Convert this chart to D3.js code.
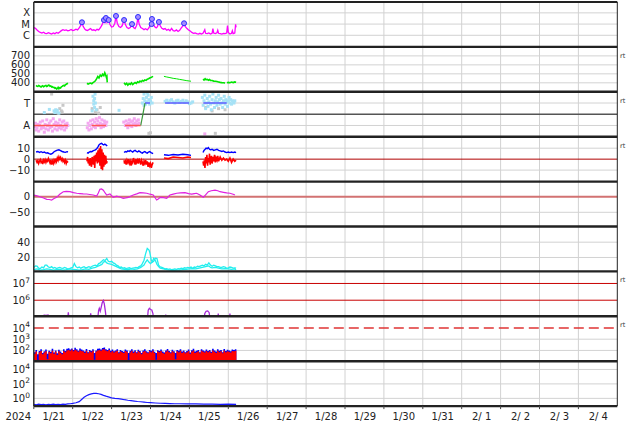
<!DOCTYPE html>
<html><head><meta charset="utf-8">
<script src="https://cdn.jsdelivr.net/npm/d3@7"></script>
<style>
body{margin:0;background:#fff}
svg{display:block}
text{font-family:"DejaVu Sans",sans-serif;}
</style>
</head><body>
<svg id="c" width="634" height="424"></svg>
<script>
// ---------------- DATA (hours since 2024-01-21 00:00 UTC) ----------------
// Panel 0: X-ray flux in C-class units (1 = 1e-6 W/m2)
const xrayFlux = [[0,5.0],[1,4.2],[2,3.0],[3,2.2],[4,1.8],[5,1.6],[6,1.9],[7,1.5],[8,1.4],[9,1.7],[10,1.5],[11,1.3],[12,1.6],[13,1.4],[14,1.8],[15,1.5],[16,2.0],[17,2.6],[18,3.2],[19,2.8],[20,3.0],[21,2.5],[22,2.8],[23,3.3],[24,2.6],[25,2.9],[26,3.5],[27,3.0],[28,4.5],[29,8],[29.7,14.5],[30.5,6],[31.5,3.5],[32,3.0],[33,2.7],[34,3.2],[35,4.0],[36,2.8],[37,3.1],[38,2.6],[39,3.4],[40,3.0],[41,4.5],[42,8],[43.3,23],[44,12],[44.5,35],[45.2,14],[46.2,23],[47,9],[48,5.5],[49,6],[50,12],[50.7,53],[51.5,12],[52.5,6],[53.5,5],[54.5,7],[55.7,23],[56.5,9],[57.5,5],[58.5,4],[59.5,5],[60.6,10],[61.5,5],[62.5,4],[63.5,8],[64.3,43],[65,10],[66,5],[67,4],[68,3.2],[69,3.8],[70,3.0],[71,4.5],[71.8,8],[72.7,10],[72.9,28.6],[73.5,12],[74.5,6],[75.5,4.5],[76.3,6],[77.2,15.4],[78,7],[79,4.2],[80,3.5],[81,4.0],[82,2.8],[83,3.4],[84,2.5],[85,4.2],[86,2.6],[87,2.4],[88,3.0],[89,2.2],[90,2.8],[91,4.5],[92,7],[92.7,11.8],[93.5,6],[94.5,4],[95.5,3],[96.5,2.4],[97.5,1.8],[98.5,1.5],[99.5,1.6],[100.5,1.4],[101.5,1.3],[102.5,1.5],[103.5,1.3],[104.5,1.6],[105.5,3.2],[106,1.5],[107,1.4],[108,1.6],[109,1.3],[110,1.5],[110.5,4.0],[111,1.6],[112,1.4],[113,1.7],[113.5,2.8],[114,1.5],[115,1.4],[116,1.3],[117,1.5],[118,1.4],[119,1.6],[119.5,7.5],[120,1.8],[121,1.3],[122,1.5],[122.5,2.5],[123,1.4],[124,1.6],[124.5,9.5],[124.8,5]];
const flareHours = [29.7,43.3,44.5,46.2,50.7,55.7,60.6,64.3,72.7,72.9,77.2,92.7];
const flarePeaks = [14.5,23,35,23,53,23,10,43,10,28.6,15.4,11.8];
const xrayTicks = [["X",100],["M",10],["C",1]];

// Panel 1: solar wind speed (km/s), segments separated by data gaps
const windSegments = [
 [[1.4,372],[2,362],[2.5,360],[3,370],[3.5,366],[4,358],[4.5,354],[5,364],[5.5,368],[6,356],[6.5,360],[7,368],[7.5,371],[8,360],[8.5,364],[9,374],[9.5,372],[10,362],[10.5,366],[11,354],[11.5,358],[12,348],[12.5,350],[13,340],[13.5,344],[14,332],[14.5,336],[15,350],[15.5,333],[16,346],[16.5,343],[17,356],[17.5,360],[18,368],[18.5,372],[19,366],[19.5,379],[20,384],[20.5,390],[21.1,396]],
 [[32.8,395],[33.5,386],[34.2,393],[35,398],[35.8,390],[36.5,402],[37.2,410],[38,422],[38.8,446],[39.5,470],[40.2,454],[41,486],[41.8,474],[42.5,496],[43.2,480],[43.8,512],[44.3,490],[44.8,460],[45.1,470],[45.3,405]],
 [[55.7,400],[56.5,380],[57.3,395],[58,374],[58.8,391],[59.5,383],[60.3,399],[61,380],[61.8,393],[62.5,403],[63.3,394],[64,411],[64.8,404],[65.5,419],[66.3,411],[67,426],[67.8,420],[68.5,433],[69.3,427],[70,441],[70.8,445],[71.5,453],[72.3,458],[73,466],[73.6,472]],
 [[80.3,472],[82,465],[84,458],[86,450],[88,445],[90,438],[92,432],[94,425],[96,420],[97,418]],
 [[104.4,440],[105,431],[105.7,446],[106.3,434],[107,439],[107.7,429],[108.4,437],[109,427],[110,426],[111,419],[112,418],[113,414],[114,410],[115,405],[116,402],[117,400],[118,398]],
 [[119.2,400],[120,405],[121,401],[122,408],[123,403],[124,410],[124.8,406]]
];
const windTicks = [700,600,500,400];

// Panel 2: IMF sector (T = toward = +1, A = away = -1)
const sectorAwayPts = [[0.5,-1.1],[1,-0.8],[1.5,-1.4],[2,-1.2],[2.5,-0.9],[3,-1.5],[3.5,-1.0],[4,-0.7],[4.5,-1.3],[5,-1.1],[5.5,-0.6],[6,-1.2],[6.5,-1.6],[7,-0.9],[7.5,-1.3],[8,-0.5],[8.5,-1.0],[9,-1.4],[9.5,-0.8],[10,-1.2],[10.5,-0.6],[11,-1.1],[11.5,-1.5],[12,-0.4],[12.5,-0.9],[13,-1.3],[13.5,-0.7],[14,-1.0],[14.5,-1.4],[15,-0.8],[15.5,-1.2],[16,-0.5],[16.5,-1.0],[17,-1.3],[17.5,-0.7],[18,-1.1],[18.5,-0.6],[19,-1.4],[19.5,-0.9],[20,-1.2],[20.5,-0.8],[21,-1.0],
 [33,-1.2],[33.5,-0.8],[34,-1.4],[34.5,-1.0],[35,-0.6],[35.5,-1.3],[36,-0.9],[36.5,-0.5],[37,-1.1],[37.5,-0.7],[38,-1.2],[38.5,-0.4],[39,-0.9],[39.5,-0.6],[40,-1.0],[40.5,-0.3],[41,-0.8],[41.5,-1.2],[42,-0.5],[42.5,-0.9],[43,-1.1],[43.5,-0.6],[44,-0.8],[44.5,-1.0],[45,-0.7],
 [55.5,-0.7],[56.5,-1.0],[57,-0.6],[57.5,-0.9],[58,-1.2],[58.5,-0.8],[59,-0.5],[59.5,-1.0],[60,-0.7],[60.5,-1.1],[61,-0.6],[61.5,-0.9],[62,-0.4],[62.5,-0.8],[63,-1.0],[63.5,-0.6],[64,-0.9],[64.5,-0.5],[65,-0.8],[105.5,-1.75]];
const sectorTowardPts = [[6.5,0.15],[9.6,0.43],[12.5,0.3],[13,0.15],[13.5,0.4],[14,0.2],[14.5,0.35],[15.5,0.1],
 [36,0.3],[36.5,1.6],[37,1.2],[37.5,1.4],[37,0.9],[38,1.0],[37.5,0.6],[38.5,0.4],[37.8,1.8],[52.6,0.35],
 [67,1.0],[67.5,1.4],[68,1.8],[68.5,1.2],[69,0.9],[69.5,1.5],[70,1.1],[70.5,1.7],[71,1.3],[71.5,0.9],[72,1.2],[72.5,1.5],[73,1.0],[68,0.8],[70,1.9],
 [81,1.15],[82,1.25],[83,1.05],[84,1.2],[85,1.3],[86,1.1],[87,1.0],[88,1.2],[89,1.25],[90,1.05],[91,1.15],[92,1.25],[93,1.05],[94,1.2],[95,1.1],[96,0.95],[97,1.0],[98,1.1],
 [104,1.5],[104.5,0.8],[105,1.2],[105.5,1.7],[106,0.5],[106.5,1.0],[107,1.4],[107.5,0.7],[108,1.1],[108.5,1.6],[109,0.9],[109.5,0.4],[110,1.3],[110.5,1.8],[111,1.0],[111.5,0.6],[112,1.2],[112.5,1.5],[113,0.8],[113.5,1.1],[114,1.7],[114.5,1.3],[115,0.9],[115.5,1.4],[116,1.0],[116.5,0.6],[117,1.2],[117.5,1.6],[118,0.9],[118.5,1.3],[119,1.1],[119.5,0.7],[120,1.2],[120.5,1.5],[121,1.0],[121.5,1.3],[122,0.9],[122.5,1.2],[123,1.1],[123.5,1.0],[124,1.2]];
const sectorMixedPts = [[11,1.8],[15,0.1],[16,0.5],[17,0.3],[17.5,0.2],[18,0.8],[36,0.5],[38,0.2],[39,0.4],[40,0.1],[41,0.6],[71,-1.7],[72,-1.65],[106,0.6],[110,0.3],[112,-1.7],[114,0.5],[118,0.4]];
const sectorAwaySpans = [[0,21],[35.7,44.5],[56.3,66]];
const sectorTowardSpans = [[68.6,71.7],[81,95.8],[104.6,119]];
const sectorSwitch = [[66,-1],[68.6,1]];
const sectorTicks = [["T",1],["A",-1]];

// Panel 3: IMF Bt (blue) and Bz (red), nT
const btSegments = [
 [[1.4,6.5],[2.5,7.0],[3.5,6.2],[4.5,6.8],[5.5,6.0],[6.5,6.5],[7.5,5.5],[8.5,5.8],[9.5,5.0],[10.5,4.5],[11.5,5.2],[12.5,6.8],[13.5,7.5],[14.5,8.2],[15.5,8.5],[16.5,7.8],[17.5,7.0],[18.5,6.5],[19.5,6.2],[20.5,6.8],[21.1,6.5]],
 [[32.8,6],[33.5,5.5],[34.2,6.5],[35,7],[35.8,6.8],[36.5,7.5],[37.2,8],[38,8.5],[38.8,9.5],[39.5,11],[40.2,13],[41,14],[41.8,14.5],[42.5,13.5],[43.2,13],[43.8,13.8],[44.5,13],[45.3,12]],
 [[55.7,6],[56.5,7],[57.3,6.5],[58,7.5],[58.8,7],[59.5,8],[60.3,7.2],[61,6.5],[61.8,7.5],[62.5,8],[63.3,7],[64,6.5],[64.8,7.5],[65.5,6.8],[66.3,6],[67,5.5],[67.8,6.5],[68.5,7],[69.3,6],[70,5.5],[70.8,6.5],[71.5,7],[72.3,6],[73,5.5],[73.6,5]],
 [[80.3,4],[83,3.5],[86,4.2],[89,3.8],[92,4.5],[95,4],[97,3.5]],
 [[104.4,6],[105,8],[105.7,9],[106.3,10],[107,9.5],[107.7,10.5],[108.4,9],[109,8.5],[110,9],[111,8],[112,8.5],[113,9],[114,8],[115,7.5],[116,7],[117,7.5],[118,6.5],[119,6],[120,6.5],[121,6],[122,6.5],[123,6],[124,6.5],[124.8,6]]
];
const bzSegments = [
 [[1.4,-1],[2,-3],[2.5,-1.5],[3,-4],[3.5,-2],[4,-0.5],[4.5,-3],[5,-2],[5.5,-4.5],[6,-1],[6.5,-2.5],[7,-0.5],[7.5,-3],[8,-1],[8.5,-2],[9,0.5],[9.5,-1.5],[10,-3.5],[10.5,-1],[11,-5],[11.5,-2],[12,-4],[12.5,-1],[13,-3],[13.5,0.5],[14,-2],[14.5,1],[15,-1],[15.5,2],[16,0],[16.5,1.5],[17,-1],[17.5,0.5],[18,-2],[18.5,-0.5],[19,-3],[19.5,-1],[20,-4],[20.5,-2],[21.1,-3]],
 [[32.8,-2],[33.2,2],[33.6,-4],[34,0],[34.4,-6],[34.8,1],[35.2,-3],[35.6,-7],[36,2],[36.4,-1],[36.8,-5],[37.2,3],[37.6,-8],[38,4],[38.4,-2],[38.8,6],[39.2,-4],[39.6,8],[40,-3],[40.4,10],[40.8,-6],[41.2,12],[41.6,-9],[42,9],[42.4,-10],[42.8,6],[43.2,-7],[43.6,4],[44,-5],[44.4,3],[44.8,-4],[45.3,-2]],
 [[55.7,-1],[56,-4],[56.5,-2],[57,-5],[57.5,-1],[58,-3],[58.5,0],[59,-4],[59.5,-2],[60,-6],[60.5,-1],[61,-3],[61.5,1],[62,-2],[62.5,-5],[63,0],[63.5,-3],[64,-1],[64.5,-4],[65,0.5],[65.5,-2],[66,-5],[66.5,-1],[67,-3],[67.5,-6],[68,-2],[68.5,-4],[69,-1],[69.5,-5],[70,-2],[70.5,-7],[71,-3],[71.5,-6],[72,-4],[72.5,-8],[73,-5],[73.6,-3]],
 [[80.3,1],[83,0.5],[86,2],[89,1.5],[92,1],[95,2],[97,1.5]],
 [[104.4,-2],[104.8,-6],[105.2,-1],[105.6,-8],[106,2],[106.4,-4],[106.8,4],[107.2,-6],[107.6,1],[108,-3],[108.4,5],[108.8,-5],[109.2,0],[109.6,3],[110,-4],[110.5,2],[111,-2],[111.5,4],[112,-3],[112.5,1],[113,-1],[113.5,3],[114,-2],[114.5,0],[115,2],[116,-1],[117,1],[118,-1],[119,0],[120,-2],[121,1],[122,-3],[123,0],[124,-2],[124.8,-1]]
];
const imfTicks = [["10",10],["0",0],["\u221210",-10]];

// Panel 4: Dst (nT)
const dst = [[0,5],[2,3],[3.8,0],[6,-4],[8,-8.5],[9.5,-9],[11,-10.6],[12.5,-6],[14.1,-2],[16,8],[18.2,16],[20,17],[22.3,16],[24.5,13],[26.5,11],[28.5,10],[30.5,9],[32.6,8.6],[34.5,7],[36.7,5.4],[38.8,2],[39.8,12],[40.8,24],[41.8,25],[42.9,21],[44,12],[45,5.4],[47,8.6],[49,-2],[51.1,2],[53,-1],[55.2,-5],[56.7,-4],[58.3,-2],[60,2],[61.4,5.4],[63.5,9],[65.5,13],[67.5,12],[69.7,11],[71.7,8],[73.7,5.4],[75.8,-10.6],[77,-7],[77.9,-2],[80,-3],[82,-5],[84,5.4],[86,8],[88.2,11],[90.5,12],[93.3,13],[95.5,10],[97.4,8.6],[99,10],[100.5,11],[102.5,5.4],[104.6,-2],[106,6],[107.7,16],[109.5,19],[111.8,21],[113.5,19],[114.9,16],[117,14],[119,12],[121,11],[123,8],[124.1,5.4]];
const dstTicks = [["0",0],["\u221250",-50]];

// Panel 5: two cyan series
const cyanA = [[0,7],[1,9],[2,8.6],[3,6],[4,5.6],[5,7.5],[6,6.5],[7,10],[8,9.9],[9,7.5],[10,6.9],[11,8],[12,6],[13,7],[14,5.6],[15,6.5],[16,7],[17,6],[18,5.8],[19,7],[20,6.2],[21,5],[22,5.5],[23,6.5],[24,7],[25,12],[26,8],[27,6.5],[28,7.5],[29,6],[30,7],[31,8],[32,6.5],[33,7],[34,8],[35,7],[36,8.6],[37,9.5],[38,10],[39,9],[40,12],[41,13],[42,15],[43,17],[44,16],[45,18.7],[46,15],[47,14.3],[48,15],[49,13],[50,12],[51,10],[52,9],[53,6.9],[54,7.5],[55,6],[56,6.5],[57,5.5],[58,6],[59,6.5],[60,5.5],[61,6],[62,6.5],[63,7],[64,6.5],[65,8],[66,9],[67,12],[68,16.5],[69,25],[70,31.8],[71,30],[71.5,27.3],[72.5,16.5],[73.2,14],[74,15],[75,19],[76,18.7],[77,10],[78,7.7],[79,7],[80,6],[81,5],[82,5.5],[83,4.5],[84,5],[85,4],[86,4.5],[87,5],[88,4.3],[89,5.5],[90,5],[91,6],[92,5.5],[93,6.5],[94,6],[95,7],[96,6.5],[97,7.5],[98,6],[99,7.5],[100,7],[101,8.5],[102,8],[103,9],[104,9.9],[105,9],[106,11],[107,10],[108,13],[109,10],[110,8.6],[111,10],[112,9],[113,8],[114,8],[115,7],[116,7],[117,8],[118,7.5],[119,6],[120,6.5],[121,7.5],[122,7],[123,6],[124,6.5],[124.8,6]];
const cyanB = [[0,4],[2,5],[4,3.5],[6,4],[8,5],[10,4.5],[12,3.5],[14,4],[16,4.5],[18,3.5],[20,4],[22,5],[24,4.5],[26,4],[28,3.5],[30,4],[32,5],[34,4.5],[36,6],[38,7],[40,9],[42,11],[43,14],[44,15],[45,13],[46,12],[48,11],[50,9],[52,7],[54,5],[56,4.5],[58,4],[60,5],[62,4.5],[64,5],[66,7],[68,10],[69,14],[70,17],[71,14],[72,12],[73,14],[74,19],[75,16],[76,11],[77,8],[78,6],[80,5],[82,4],[84,3.5],[86,3],[88,3.5],[90,3.5],[92,4],[94,4.5],[96,5],[98,5.5],[100,5],[102,6],[104,7],[106,8],[108,9],[109,7],[110,6.5],[112,7],[114,6],[116,5],[118,5.5],[120,5],[122,4.5],[124,5],[124.8,4]];
const cyanTicks = [["40",40],["20",20]];

// Panel 6: particle flux (log)
const protonFlux = [[0,6e4],[5,6e4],[5.5,1.2e5],[6.5,1.3e5],[7.5,1.25e5],[8.8,1.3e5],[9.2,6e4],[20.8,6e4],[21.3,1.9e5],[21.8,6e4],[34.6,6e4],[35.1,1.65e5],[35.6,6e4],[39.3,6e4],[40,2.5e5],[40.4,3.3e5],[41,2.2e5],[41.5,3.5e5],[42.2,7e5],[42.9,9.5e5],[43.5,6e5],[44.2,2e5],[44.8,6e4],[56.8,6e4],[57.3,1.2e5],[57.8,6e4],[66.2,6e4],[66.6,1.12e5],[67,6e4],[70,6e4],[70.6,2.5e5],[71.3,3.3e5],[72,2.8e5],[72.8,2.6e5],[73.5,1.6e5],[74,6e4],[81,6e4],[81.4,1.4e5],[81.8,6e4],[104.8,6e4],[105.5,1.6e5],[106.3,2.2e5],[107.3,2.3e5],[108.2,1.8e5],[108.8,6e4],[113.4,6e4],[113.8,1.6e5],[114.2,6e4],[120.6,6e4],[121,1.6e5],[121.4,6e4],[124.8,6e4]];
const protonLevels = [1e7,1e6];
const protonTicks = [7,6];

// Panel 7: hourly flux, two channels (log)
const chanBlue = [70,110,45,90,130,60,85,120,50,95,75,140,65,100,55,115,80,60,125,90,140,160,120,150,110,
 170,130,95,145,120,100,80,135,70,110,90,125,60,100,140,150,120,165,180,130,110,150,95,120,85,
 100,130,70,110,90,75,120,100,60,95,130,80,105,70,115,90,60,100,125,85,70,110,95,130,75,
 60,105,90,120,80,65,100,135,90,70,115,85,60,110,95,125,80,100,70,90,120,65,105,140,80,
 95,110,70,130,100,85,120,90,110,75,140,100,80,125,95,110,70,135,90,115,100,85,120,110,130];
const chanRed = [50,80,14,70,90,45,65,85,16,75,55,95,50,80,40,85,60,45,90,70,100,110,95,120,85,
 115,100,75,105,90,80,60,95,55,85,70,95,15,80,100,110,95,120,130,100,85,110,70,90,65,
 80,95,55,85,70,60,90,75,14,70,95,60,80,55,85,70,45,75,90,65,55,85,70,95,60,
 15,80,70,90,60,50,75,100,70,55,85,65,16,85,70,95,60,75,55,70,90,50,80,100,60,
 70,85,55,95,75,65,90,70,85,60,100,75,60,95,70,85,55,100,70,85,75,65,90,85,95];
const chanThreshold = 1e4;
const chanTicks = [4,3,2];

// Panel 8: fluence-like series (log)
const fluence = [[0,0.15],[1.5,0.13],[3,0.16],[4.5,0.14],[6,0.15],[7.5,0.13],[9,0.15],[10.5,0.14],[12,0.16],[13.5,0.14],[15,0.15],[16.5,0.14],[18,0.16],[19.5,0.15],[21,0.17],[22.5,0.18],[24,0.2],[26,0.25],[28,0.35],[29.5,0.7],[31,1.4],[32.5,2.3],[34,3.3],[35.5,4.2],[37,4.8],[38.5,5.0],[40,4.3],[41.5,3.6],[43,2.6],[44.5,2.0],[46,1.6],[48,1.2],[50,1.0],[52,0.9],[54,0.8],[56,0.65],[58,0.55],[60,0.48],[62,0.42],[64,0.37],[66,0.34],[68,0.3],[70,0.27],[72,0.25],[75,0.23],[78,0.21],[81,0.2],[84,0.19],[87,0.18],[90,0.18],[95,0.17],[100,0.17],[105,0.16],[110,0.16],[115,0.15],[120,0.16],[124.8,0.15]];
const fluenceTicks = [4,2,0];

const rtPanels = [1,2,3,6,7];

// ---------------- LAYOUT ----------------
const svg = d3.select("#c");
const HOUR = 3600e3, T0 = Date.UTC(2024,0,21);
const toDate = h => new Date(T0 + h*HOUR);
const XL = 33.8, XR = 617.3;
const x = d3.scaleUtc().domain([toDate(0), toDate(360)]).range([XL, XR]);
const PT = 2, PH = 44.9;
const pTop = i => PT + i*PH, pBot = i => PT + (i+1)*PH;
const lg = v => Math.pow(10, v);

const ys = [
  d3.scaleLog().domain([lg(-1.036), lg(2.97)]).range([pBot(0), pTop(0)]),
  d3.scaleLinear().domain([300, 800]).range([pBot(1), pTop(1)]),
  d3.scaleLinear().domain([-2, 2]).range([pBot(2), pTop(2)]),
  d3.scaleLinear().domain([-20.5, 20.5]).range([pBot(3), pTop(3)]),
  d3.scaleLinear().domain([-95.5, 48.4]).range([pBot(4), pTop(4)]),
  d3.scaleLinear().domain([1.8, 60.5]).range([pBot(5), pTop(5)]),
  d3.scaleLog().domain([lg(5.04), lg(7.72)]).range([pBot(6), pTop(6)]),
  d3.scaleLog().domain([lg(1.04), lg(5.04)]).range([pBot(7), pTop(7)]),
  d3.scaleLog().domain([lg(-1.07), lg(5.14)]).range([pBot(8), pTop(8)])
];

// clip paths
const defs = svg.append("defs");
for (let i = 0; i < 9; i++) {
  defs.append("clipPath").attr("id", "cp" + i).append("rect")
    .attr("x", XL).attr("y", pTop(i)).attr("width", XR - XL).attr("height", PH);
}

// vertical day grid
const dayLines = d3.utcDay.range(toDate(24), toDate(360));
svg.append("g").selectAll("line").data(dayLines).join("line")
  .attr("x1", d => x(d)).attr("x2", d => x(d))
  .attr("y1", pTop(0)).attr("y2", pBot(8))
  .attr("stroke", "#d2d2d2").attr("stroke-width", 1);

// horizontal grid
const gridSpec = [
  [0, xrayTicks.map(d => d[1])],
  [1, windTicks],
  [2, sectorTicks.map(d => d[1])],
  [3, [10, -10]],
  [4, [-50]],
  [5, [40, 20]],
  [7, [1e3, 1e2]],
  [8, fluenceTicks.map(lg)]
];
gridSpec.forEach(([p, vals]) => {
  svg.append("g").selectAll("line").data(vals).join("line")
    .attr("x1", XL).attr("x2", XR)
    .attr("y1", d => ys[p](d)).attr("y2", d => ys[p](d))
    .attr("stroke", "#d2d2d2").attr("stroke-width", 1);
});

function pane(i) { return svg.append("g").attr("clip-path", `url(#cp${i})`); }
function lineFor(p) {
  return d3.line().x(d => x(toDate(d[0]))).y(d => ys[p](d[1]));
}

// ---- Panel 0: X-ray
{
  const g = pane(0);
  g.append("path").datum(xrayFlux).attr("d", lineFor(0))
    .attr("fill", "none").attr("stroke", "#ff00ff").attr("stroke-width", 1.3);
  g.selectAll("circle").data(flareHours).join("circle")
    .attr("cx", (d) => x(toDate(d))).attr("cy", (d, i) => ys[0](flarePeaks[i]))
    .attr("r", 2.5).attr("fill", "#a48cff").attr("stroke", "#2b2bff").attr("stroke-width", 1);
}

// ---- Panel 1: solar wind
{
  const g = pane(1);
  g.selectAll("path").data(windSegments).join("path").attr("d", lineFor(1))
    .attr("fill", "none").attr("stroke", "#00e600").attr("stroke-width", (d, i) => i === 3 ? 1 : 1.6);
}

// ---- Panel 2: sector
{
  const g = pane(2);
  const y = ys[2];
  g.append("line").attr("x1", XL).attr("x2", XR).attr("y1", y(0)).attr("y2", y(0))
    .attr("stroke", "#555").attr("stroke-width", 1.3);
  const pts = (data, col) => g.append("g").selectAll("rect").data(data).join("rect")
    .attr("x", d => x(toDate(d[0])) - 1.5).attr("y", d => y(d[1]) - 1.5)
    .attr("width", 3).attr("height", 3).attr("fill", col);
  pts(sectorMixedPts, "#c8c8c8");
  pts(sectorAwayPts, "#f4a8f0");
  pts(sectorTowardPts, "#a6e2f6");
  g.append("g").selectAll("line").data(sectorAwaySpans).join("line")
    .attr("x1", d => x(toDate(d[0]))).attr("x2", d => x(toDate(d[1])))
    .attr("y1", y(-1)).attr("y2", y(-1)).attr("stroke", "#ff5555").attr("stroke-width", 1.4);
  g.append("g").selectAll("line").data(sectorTowardSpans).join("line")
    .attr("x1", d => x(toDate(d[0]))).attr("x2", d => x(toDate(d[1])))
    .attr("y1", y(1)).attr("y2", y(1)).attr("stroke", "#5c5cff").attr("stroke-width", 1.4);
  g.append("path").datum(sectorSwitch).attr("d", lineFor(2))
    .attr("fill", "none").attr("stroke", "#3c9a3c").attr("stroke-width", 1.2);
}

// ---- Panel 3: IMF
{
  const g = pane(3);
  g.append("line").attr("x1", XL).attr("x2", XR).attr("y1", ys[3](0)).attr("y2", ys[3](0))
    .attr("stroke", "#b00000").attr("stroke-width", 1);
  g.append("g").selectAll("path").data(btSegments).join("path").attr("d", lineFor(3))
    .attr("fill", "none").attr("stroke", "#0000ff").attr("stroke-width", 1.4);
  g.append("g").selectAll("path").data(bzSegments).join("path").attr("d", lineFor(3))
    .attr("fill", "none").attr("stroke", "#ff0000").attr("stroke-width", 1.6);
}

// ---- Panel 4: Dst
{
  const g = pane(4);
  g.append("line").attr("x1", XL).attr("x2", XR).attr("y1", ys[4](0)).attr("y2", ys[4](0))
    .attr("stroke", "#d27272").attr("stroke-width", 2);
  g.append("path").datum(dst).attr("d", lineFor(4))
    .attr("fill", "none").attr("stroke", "#e020e0").attr("stroke-width", 1.2);
}

// ---- Panel 5: cyan
{
  const g = pane(5);
  [cyanB, cyanA].forEach(s => g.append("path").datum(s).attr("d", lineFor(5))
    .attr("fill", "none").attr("stroke", "#22eeee").attr("stroke-width", 1.3));
}

// ---- Panel 6: particle flux
{
  const g = pane(6);
  g.append("g").selectAll("line").data(protonLevels).join("line")
    .attr("x1", XL).attr("x2", XR).attr("y1", d => ys[6](d)).attr("y2", d => ys[6](d))
    .attr("stroke", "#c80000").attr("stroke-width", 1);
  g.append("path").datum(protonFlux).attr("d", lineFor(6))
    .attr("fill", "none").attr("stroke", "#a828d8").attr("stroke-width", 1.3);
}

// ---- Panel 7: two channels as filled steps
{
  const g = pane(7);
  const y = ys[7];
  const area = d3.area().curve(d3.curveStepAfter)
    .x((d, i) => x(toDate(i))).y0(pBot(7)).y1(d => y(d));
  g.append("path").datum(chanBlue.concat([chanBlue[chanBlue.length-1]])).attr("d", area).attr("fill", "#0000ff");
  g.append("path").datum(chanRed.concat([chanRed[chanRed.length-1]])).attr("d", area).attr("fill", "#ff0000");
  g.append("line").attr("x1", XL).attr("x2", XR).attr("y1", y(chanThreshold)).attr("y2", y(chanThreshold))
    .attr("stroke", "#e03434").attr("stroke-width", 1.5).attr("stroke-dasharray", "10,5");
}

// ---- Panel 8: fluence
{
  const g = pane(8);
  g.append("path").datum(fluence).attr("d", lineFor(8))
    .attr("fill", "none").attr("stroke", "#1a1aff").attr("stroke-width", 1.2);
}

// ---- Frame
const frame = svg.append("g");
frame.append("line").attr("x1", XL).attr("x2", XR).attr("y1", pTop(0)).attr("y2", pTop(0))
  .attr("stroke", "#222").attr("stroke-width", 2);
frame.selectAll("line.sep").data(d3.range(1, 10)).join("line").attr("class", "sep")
  .attr("x1", XL).attr("x2", XR).attr("y1", d => pTop(d)).attr("y2", d => pTop(d))
  .attr("stroke", "#222").attr("stroke-width", 2.4);
frame.append("line").attr("x1", XL).attr("x2", XL).attr("y1", pTop(0)).attr("y2", pBot(8))
  .attr("stroke", "#222").attr("stroke-width", 1.4);
frame.append("line").attr("x1", XR).attr("x2", XR).attr("y1", pTop(0)).attr("y2", pBot(8))
  .attr("stroke", "#222").attr("stroke-width", 1);

// ---- Y labels
const labG = svg.append("g").attr("font-size", 10).attr("fill", "#222").attr("text-anchor", "end");
function plainLabels(p, list) {
  labG.append("g").selectAll("text").data(list).join("text")
    .attr("x", 30).attr("y", d => ys[p](d[1])).attr("dy", "0.36em").text(d => d[0]);
}
function powLabels(p, exps) {
  const t = labG.append("g").selectAll("text").data(exps).join("text")
    .attr("x", 30).attr("y", d => ys[p](lg(d)) + 4);
  t.append("tspan").text("10");
  t.append("tspan").attr("dy", -4.5).attr("font-size", 7.5).text(d => d);
}
plainLabels(0, xrayTicks);
plainLabels(1, windTicks.map(v => [String(v), v]));
plainLabels(2, sectorTicks);
plainLabels(3, imfTicks);
plainLabels(4, dstTicks);
plainLabels(5, cyanTicks);
powLabels(6, protonTicks);
powLabels(7, chanTicks);
powLabels(8, fluenceTicks);

// ---- right-side "rt" markers
svg.append("g").selectAll("text").data(rtPanels).join("text")
  .attr("x", 620).attr("y", d => pTop(d) + 11).attr("font-size", 6.5).attr("fill", "#333")
  .text("rt");

// ---- X axis
const noons = d3.utcDay.range(toDate(0), toDate(360)).map(d => d3.utcHour.offset(d, 12));
const xAxis = d3.axisBottom(x).tickValues(noons).tickFormat(d3.utcFormat("%-m/%e"))
  .tickSize(0).tickPadding(7);
const ax = svg.append("g").attr("transform", `translate(0,${pBot(8)})`).call(xAxis);
ax.select(".domain").remove();
ax.selectAll("text").attr("font-size", 10).attr("font-family", "DejaVu Sans, sans-serif").attr("fill", "#222");
svg.append("g").selectAll("line").data(dayLines.concat([toDate(0)])).join("line")
  .attr("x1", d => x(d)).attr("x2", d => x(d)).attr("y1", pBot(8)).attr("y2", pBot(8) + 3)
  .attr("stroke", "#444").attr("stroke-width", 1);
svg.append("text").attr("x", 31).attr("y", pBot(8) + 7).attr("dy", "0.71em")
  .attr("text-anchor", "end").attr("font-size", 10).attr("fill", "#222").text("2024");
</script>
</body></html>
